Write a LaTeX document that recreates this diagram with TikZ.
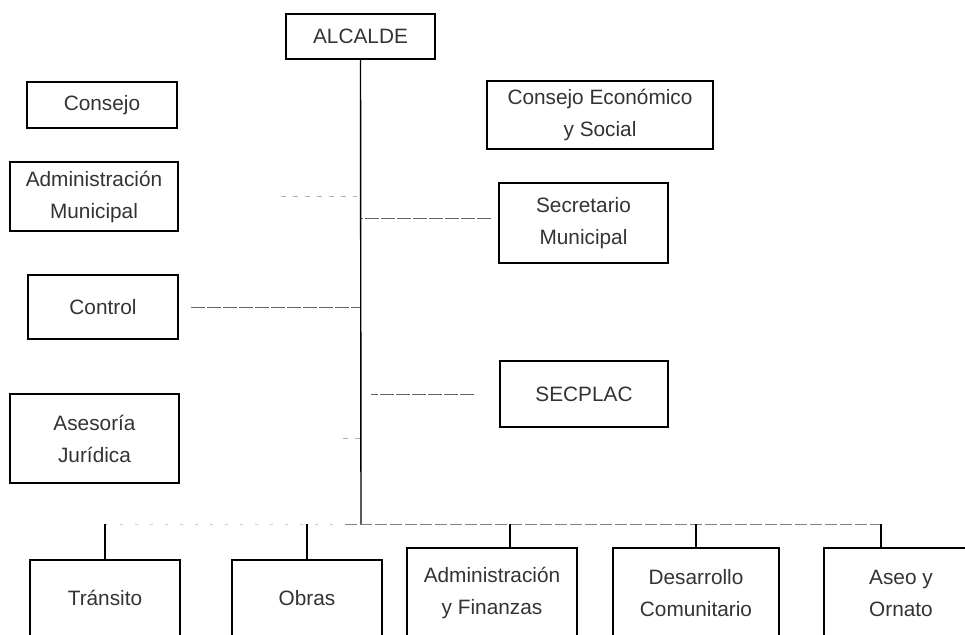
\documentclass[tikz,border=0pt]{standalone}
\usepackage{fontspec}
\setmainfont{Liberation Sans}
\begin{document}
\begin{tikzpicture}[x=1pt,y=-1pt,
  box/.style={draw=black,line width=1.5pt,inner sep=0pt,align=center,
    text=black!80,font=\fontsize{20.8}{32}\selectfont},
  trunk/.style={draw=black,line width=1.4pt},
  conn/.style={draw=black!60,line width=1pt,dash pattern=on 14pt off 2pt},
  faintline/.style={draw=black!30,line width=1pt,dash pattern=on 5pt off 7pt},
  busline/.style={draw=black!50,line width=1pt,dash pattern=on 12pt off 3pt},
  faintbus/.style={draw=black!20,line width=1pt,dash pattern=on 3pt off 12pt}]
\useasboundingbox (0,0) rectangle (965,634);
\clip (0,0) rectangle (965,634);
\fill[white] (0,0) rectangle (965,634);
% nodes
\node[box,minimum width=149pt,minimum height=45pt] (alc) at (360.5,36.5) {ALCALDE};
\node[box,minimum width=150pt,minimum height=46pt] (cons) at (102,105) {Consejo};
\node[box,minimum width=168pt,minimum height=69pt] (adm) at (94,196.5) {Administración\\Municipal};
\node[box,minimum width=150pt,minimum height=64pt] (ctrl) at (103,307) {Control};
\node[box,minimum width=169pt,minimum height=89pt] (ases) at (94.5,438.5) {Asesoría\\Jurídica};
\node[box,minimum width=226pt,minimum height=68pt] (ces) at (600,115) {Consejo Económico\\y Social};
\node[box,minimum width=169pt,minimum height=80pt] (secr) at (583.5,223) {Secretario\\Municipal};
\node[box,minimum width=168pt,minimum height=66pt] (secp) at (584,394) {SECPLAC};
\node[box,minimum width=150pt,minimum height=76pt] (tran) at (105,598) {Tránsito};
\node[box,minimum width=150pt,minimum height=76pt] (obras) at (307,598) {Obras};
\node[box,minimum width=170pt,minimum height=90pt] (admf) at (492,593) {Administración\\y Finanzas};
\node[box,minimum width=166pt,minimum height=90pt] (desa) at (696,593) {Desarrollo\\Comunitario};
\node[box,minimum width=154pt,minimum height=90pt] (aseo) at (901,593) {Aseo y\\Ornato};
% bus coordinates
\coordinate (bus) at (361,524);
\coordinate (tadmf) at ([xshift=18pt]admf.north);
\coordinate (taseo) at ([xshift=-20pt]aseo.north);
% side connectors
\draw[conn] ([yshift=5pt]secr.west) [shorten <=7pt] -- ([yshift=5pt]secr.west -| alc.south);
\draw[conn] (ctrl.east) [shorten <=12pt] -- (ctrl.east -| alc.south);
\draw[conn] (secp.west) [shorten <=25pt, shorten >=10pt] -- (secp.west -| alc.south);
\draw[faintline] ([yshift=0.5pt]adm.east) [shorten <=102pt, shorten >=4pt] -- ([yshift=0.5pt]adm.east -| alc.south);
\draw[faintline] (ases.east) [shorten <=163pt] -- (ases.east -| alc.south);
% bottom bus
\draw[faintbus] (tran.north |- bus) -- (bus);
\draw[busline] ([xshift=-16pt]bus) -- (taseo |- bus);
% trunk
\draw[trunk] (alc.south) -- (bus);
% ticks
\draw[trunk] (tran.north) -- (tran.north |- bus);
\draw[trunk] (obras.north) -- (obras.north |- bus);
\draw[trunk] (tadmf) -- (tadmf |- bus);
\draw[trunk] (desa.north) -- (desa.north |- bus);
\draw[trunk] (taseo) -- (taseo |- bus);
\end{tikzpicture}
\end{document}
